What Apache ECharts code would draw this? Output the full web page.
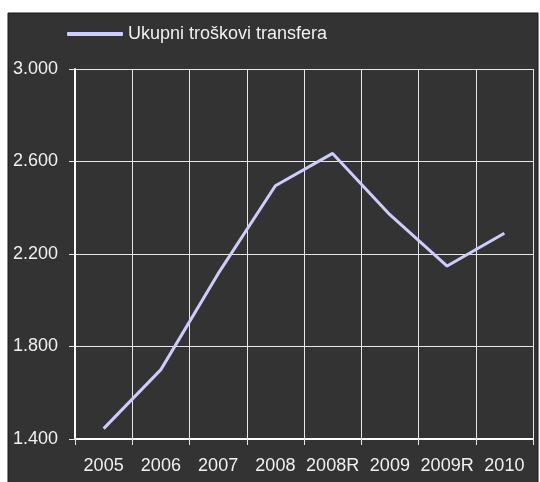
<!DOCTYPE html>
<html>
<head>
<meta charset="utf-8">
<script src="https://cdn.jsdelivr.net/npm/echarts@6/dist/echarts.min.js"></script>
<style>
  html, body { margin: 0; padding: 0; background: #fff; }
  #chart { width: 540px; height: 482px; }
</style>
</head>
<body>
<div id="chart"></div>
<script>
const years = ['2005', '2006', '2007', '2008', '2008R', '2009', '2009R', '2010']
const costs = [1445, 1700, 2115, 2495, 2635, 2370, 2148, 2290]
const seriesName = 'Ukupni troškovi transfera'

const fontFamily = '"Liberation Sans", Arial, sans-serif'
const txtColor = '#f0f0f0'
const gridColor = '#e8e8e8'

const myChart = echarts.init(document.getElementById('chart'))

const option = {
  backgroundColor: '#ffffff',
  animation: false,
  graphic: [{
    type: 'rect',
    z: -10,
    shape: { x: 8, y: 13, width: 530, height: 470 },
    style: { fill: '#333333', stroke: '#1a1a1a', lineWidth: 1 }
  }],
  legend: {
    left: 62,
    top: 20,
    icon: 'roundRect',
    itemWidth: 56,
    itemHeight: 4,
    textStyle: { color: txtColor, fontSize: 18, fontFamily: fontFamily },
    data: [seriesName]
  },
  grid: {
    left: 75,
    top: 69,
    right: 7,
    bottom: 43,
    containLabel: false
  },
  xAxis: {
    type: 'category',
    data: years,
    boundaryGap: true,
    axisLine: { lineStyle: { color: '#ffffff', width: 2 } },
    axisTick: { show: true, length: 6, lineStyle: { color: gridColor } },
    axisLabel: {
      color: txtColor,
      fontSize: 18,
      fontFamily: fontFamily,
      margin: 18,
      interval: 0
    },
    splitLine: { show: true, interval: 0, lineStyle: { color: gridColor, width: 1 } }
  },
  yAxis: {
    type: 'value',
    min: 1400,
    max: 3000,
    interval: 400,
    axisLine: { show: true, lineStyle: { color: '#ffffff', width: 2 } },
    axisTick: { show: true, length: 6, lineStyle: { color: gridColor } },
    axisLabel: {
      color: txtColor,
      fontSize: 18,
      fontFamily: fontFamily,
      margin: 17,
      padding: [0, 0, 6, 0],
      formatter: function (v) { return (v / 1000).toFixed(3) }
    },
    splitLine: { show: true, lineStyle: { color: gridColor, width: 1 } }
  },
  series: [{
    name: seriesName,
    type: 'line',
    data: costs,
    symbol: 'none',
    lineStyle: { color: '#ccccff', width: 3 },
    itemStyle: { color: '#ccccff' }
  }]
}

myChart.setOption(option)
</script>
</body>
</html>
